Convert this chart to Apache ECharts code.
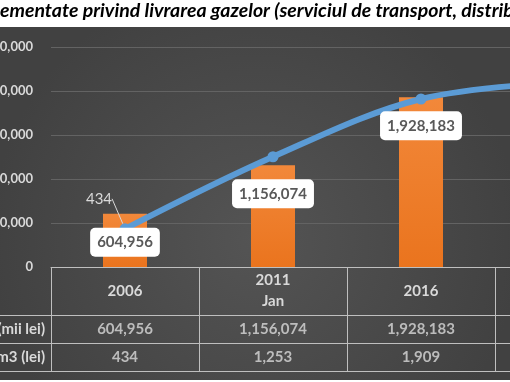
<!DOCTYPE html>
<html>
<head>
<meta charset="utf-8">
<script src="https://cdn.jsdelivr.net/npm/echarts@6/dist/echarts.min.js"></script>
<style>
html,body{margin:0;padding:0;overflow:hidden;background:#fff;width:510px;height:382px;}
#c{position:absolute;left:0;top:0;width:700px;height:382px;}
</style>
</head>
<body>
<div id="c"></div>
<script>
const titleText = 'ementate privind livrarea gazelor (serviciul de transport, distrib';
const categories = ['2006', '2011\nJan', '2016', '2021'];
const revenue = [604956, 1156074, 1928183, 2350000];
const price = [434, 1253, 1909, 2100];
const rowNames = ['Venituri reglementate (mii lei)', 'Tarif mediu la 1000m3 (lei)'];

const FONT = 'Lato';
const TXT = '#D9D9D9';
const LINE = '#BFBFBF';
const fmt = v => Number(v).toLocaleString('en-US');

const cells = [];
categories.forEach((c, i) => {
  cells.push([i, 0, revenue[i]]);
  cells.push([i, 1, price[i]]);
});

const chart = echarts.init(document.getElementById('c'), null, {renderer: 'canvas'});
chart.setOption({
  animation: false,
  backgroundColor: '#ffffff',
  textStyle: {fontFamily: FONT},
  title: {
    text: titleText, left: 0, top: 1, padding: 0,
    textStyle: {fontFamily: FONT, fontStyle: 'italic', fontWeight: 'bold', fontSize: 19.5, color: '#000'}
  },
  graphic: [{
    type: 'rect', z: -100, silent: true,
    shape: {x: 0, y: 27, width: 510, height: 353},
    style: {fill: {type: 'radial', x: 0.5, y: 0.6, r: 0.75,
      colorStops: [{offset: 0, color: '#545454'}, {offset: 1, color: '#414141'}]}}
  }],
  grid: [
    {left: 51, top: 47, width: 592, height: 220, outerBoundsMode: 'none', containLabel: false},
    {left: 51, top: 315, width: 592, height: 56, outerBoundsMode: 'none', containLabel: false}
  ],
  xAxis: [
    {type: 'category', gridIndex: 0, data: categories, boundaryGap: true,
     axisLine: {show: true, lineStyle: {color: LINE, width: 1}},
     axisTick: {show: true, length: 48, lineStyle: {color: LINE, width: 1}},
     axisLabel: {color: TXT, fontFamily: FONT, fontWeight: 'bold', fontSize: 15, lineHeight: 21,
       verticalAlign: 'middle', margin: 24},
     splitLine: {show: false}},
    {type: 'category', gridIndex: 1, data: categories, position: 'top', boundaryGap: true,
     axisLine: {show: true, lineStyle: {color: LINE, width: 1}},
     axisTick: {show: false}, axisLabel: {show: false},
     splitLine: {show: true, lineStyle: {color: LINE, width: 1}}}
  ],
  yAxis: [
    {type: 'value', gridIndex: 0, min: 0, max: 2500000, interval: 500000,
     axisLine: {show: false}, axisTick: {show: false},
     axisLabel: {color: TXT, fontFamily: FONT, fontWeight: 'bold', fontSize: 13, margin: 18},
     splitLine: {show: true, lineStyle: {color: '#636363', width: 1}}},
    {type: 'value', gridIndex: 0, min: 0, max: 2500, interval: 500, position: 'right',
     axisLine: {show: false}, axisTick: {show: false}, axisLabel: {show: false},
     splitLine: {show: false}},
    {type: 'category', gridIndex: 1, data: rowNames, inverse: true, boundaryGap: true,
     axisLine: {show: true, lineStyle: {color: LINE, width: 1}},
     axisTick: {show: true, length: 60, lineStyle: {color: LINE, width: 1}},
     axisLabel: {color: TXT, fontFamily: FONT, fontWeight: 'bold', fontSize: 15, margin: 6},
     splitLine: {show: true, lineStyle: {color: LINE, width: 1}}}
  ],
  series: [
    {type: 'bar', xAxisIndex: 0, yAxisIndex: 0, data: revenue, barWidth: 44, z: 2, silent: true,
     itemStyle: {color: {type: 'linear', x: 0, y: 0, x2: 0, y2: 1,
       colorStops: [{offset: 0, color: '#F2883A'}, {offset: 1, color: '#EA741E'}]}}},
    {type: 'line', xAxisIndex: 0, yAxisIndex: 1, z: 3, silent: true,
     data: price.map((v, i) => ({value: v, label: {show: i === 0}})),
     smooth: 0.35, symbol: 'circle', symbolSize: 11,
     lineStyle: {color: '#5B9BD5', width: 6},
     itemStyle: {color: '#5B9BD5'},
     label: {position: 'top', color: TXT, fontFamily: FONT, fontSize: 15, formatter: p => fmt(p.value)},
     labelLine: {show: true, lineStyle: {color: '#D9D9D9', width: 1}},
     labelLayout: p => (p.dataIndex === 0 ? {dx: -26, dy: -12} : {})},
    {type: 'bar', xAxisIndex: 0, yAxisIndex: 0, data: revenue, barWidth: 44, barGap: '-100%', z: 5, silent: true,
     itemStyle: {color: 'rgba(0,0,0,0)'},
     label: {show: true, position: 'insideTop', distance: 14, formatter: p => fmt(p.value),
       backgroundColor: '#ffffff', borderRadius: 5, padding: [6, 7, 6, 7],
       color: '#595959', fontFamily: FONT, fontWeight: 'bold', fontSize: 15, lineHeight: 17}},
    {type: 'scatter', xAxisIndex: 1, yAxisIndex: 2, data: cells, symbolSize: 1, silent: true,
     itemStyle: {color: 'rgba(0,0,0,0)'},
     label: {show: true, position: 'inside', formatter: p => fmt(p.value[2]),
       color: TXT, fontFamily: FONT, fontWeight: 'bold', fontSize: 15}}
  ]
});
</script>
</body>
</html>
